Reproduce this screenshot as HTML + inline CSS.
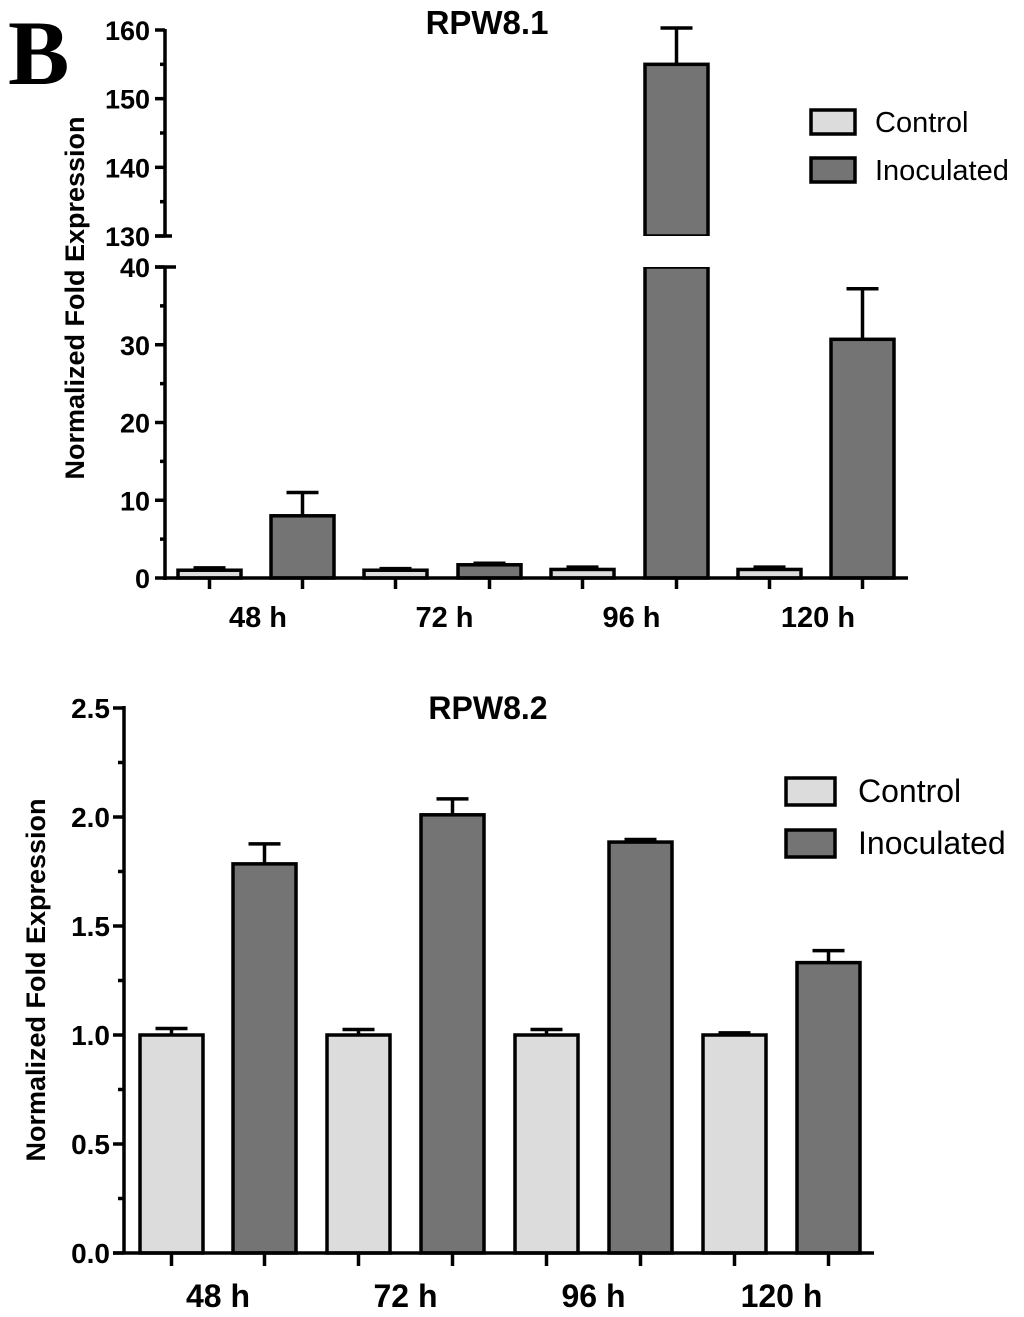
<!DOCTYPE html>
<html><head><meta charset="utf-8"><style>
body{margin:0;background:#fff;}
svg{display:block;font-family:"Liberation Sans",Arial,sans-serif;font-weight:bold;}
</style></head><body>
<svg id="c" width="1024" height="1317">
<text x="8" y="84" font-family="Liberation Serif" font-size="92" font-weight="bold">B</text>
</svg>
<script>
const categories=["48 h","72 h","96 h","120 h"];
const top_control=[1.0,1.0,1.1,1.1];
const top_controlErr=[1.3,1.2,1.4,1.4];
const top_inoc=[8.0,1.7,155.0,30.7];
const top_inocErr=[11.0,1.9,160.3,37.2];
const top_lowTicks=[0,10,20,30,40];
const top_highTicks=[130,140,150,160];
const bot_control=[1.0,1.0,1.0,1.0];
const bot_controlErr=[1.03,1.025,1.025,1.01];
const bot_inoc=[1.785,2.01,1.885,1.332];
const bot_inocErr=[1.877,2.083,1.897,1.387];
const bot_ticks=["0.0","0.5","1.0","1.5","2.0","2.5"];

const S=document.getElementById('c');const NS='http://www.w3.org/2000/svg';
function el(t,a,p){const e=document.createElementNS(NS,t);for(const k in a)e.setAttribute(k,a[k]);(p||S).appendChild(e);return e;}
function ln(x1,y1,x2,y2,w){return el('line',{x1,y1,x2,y2,stroke:'#000','stroke-width':w||3.5});}
function tx(x,y,s,size,anchor,extra){const e=el('text',Object.assign({x,y,'font-size':size,'text-anchor':anchor||'start'},extra||{}));e.textContent=s;return e;}

// ---- Top chart ----
const yLow=v=>578-v*311/40;
const yHigh=v=>236-(v-130)*206/30;
function yTop(v){return v<=40?yLow(v):yHigh(v);}
const tBars=[[178,271],[364,458],[551,645],[738,831]],bw=63;
let t=tx(487,34,'RPW8.1',33,'middle');

t=tx(84,298,'Normalized Fold Expression',27,'middle',{transform:'rotate(-90 84 298)'});

for(let i=0;i<categories.length;i++){
  const [cx,ix]=tBars[i];
  let y=yTop(top_control[i]);
  let r=el('rect',{x:cx,y:y,width:bw,height:578-y,fill:'#dcdcdc',stroke:'#000','stroke-width':3.5});
  
  let ye=yTop(top_controlErr[i]);ln(cx+bw/2,ye,cx+bw/2,y);ln(cx+bw/2-16,ye,cx+bw/2+16,ye);
  const v=top_inoc[i];
  if(v>40){
    y=yHigh(v);
    r=el('rect',{x:ix,y:y,width:bw,height:236-y,fill:'#747474',stroke:'#000','stroke-width':3.5});
    
    r=el('rect',{x:ix,y:267,width:bw,height:311,fill:'#747474',stroke:'#000','stroke-width':3.5});
    
    el('rect',{x:ix-3,y:236,width:bw+6,height:31,fill:'#fff'});
  }else{
    y=yLow(v);
    r=el('rect',{x:ix,y:y,width:bw,height:578-y,fill:'#747474',stroke:'#000','stroke-width':3.5});
    
  }
  ye=yTop(top_inocErr[i]);ln(ix+bw/2,ye,ix+bw/2,y);ln(ix+bw/2-16,ye,ix+bw/2+16,ye);
  const mid=(cx+ix+bw)/2;
  ln(cx+bw/2,578,cx+bw/2,589);ln(ix+bw/2,578,ix+bw/2,589);
  t=tx(mid+2,627,categories[i],29,'middle');
  
}
ln(165,266,165,580);ln(165,29,165,237);ln(163,578,908,578);
ln(155,267,176,267);ln(155,236,172,236);
top_lowTicks.forEach(v=>{ln(155,yLow(v),165,yLow(v));t=tx(150,yLow(v)+10,String(v),27,'end');});
[5,15,25,35].forEach(v=>ln(160,yLow(v),165,yLow(v)));
top_highTicks.forEach(v=>{ln(155,yHigh(v),165,yHigh(v));t=tx(150,yHigh(v)+10,String(v),27,'end');});
[135,145,155].forEach(v=>ln(160,yHigh(v),165,yHigh(v)));
let g=el('g',{});
el('rect',{x:811,y:110,width:44,height:24,fill:'#dcdcdc',stroke:'#000','stroke-width':3.5},g);
el('rect',{x:811,y:158,width:44,height:24,fill:'#747474',stroke:'#000','stroke-width':3.5},g);
t=tx(875,132,'Control',29,'start',{'font-weight':'normal'});g.appendChild(t);
t=tx(875,180,'Inoculated',29,'start',{'font-weight':'normal'});g.appendChild(t);

// ---- Bottom chart ----
const yB=v=>1253-v*218;
const bBars=[[140,233],[327,421],[515,609],[703,797]];
t=tx(488,719,'RPW8.2',32,'middle');

t=tx(45,980,'Normalized Fold Expression',27,'middle',{transform:'rotate(-90 45 980)'});

for(let i=0;i<categories.length;i++){
  const [cx,ix]=bBars[i];
  let y=yB(bot_control[i]);
  let r=el('rect',{x:cx,y:y,width:bw,height:1253-y,fill:'#dcdcdc',stroke:'#000','stroke-width':3.5});
  
  let ye=yB(bot_controlErr[i]);ln(cx+bw/2,ye,cx+bw/2,y);ln(cx+bw/2-16,ye,cx+bw/2+16,ye);
  y=yB(bot_inoc[i]);
  r=el('rect',{x:ix,y:y,width:bw,height:1253-y,fill:'#747474',stroke:'#000','stroke-width':3.5});
  
  ye=yB(bot_inocErr[i]);ln(ix+bw/2,ye,ix+bw/2,y);ln(ix+bw/2-16,ye,ix+bw/2+16,ye);
  ln(cx+bw/2,1253,cx+bw/2,1266);ln(ix+bw/2,1253,ix+bw/2,1266);
  t=tx((cx+ix+bw)/2,1307,categories[i],32,'middle');
  
}
ln(124,706,124,1254);ln(113,1253,874,1253);
bot_ticks.forEach(s=>{const v=parseFloat(s);ln(113,yB(v),124,yB(v));t=tx(110,yB(v)+10,s,28,'end');});
[0.25,0.75,1.25,1.75,2.25].forEach(v=>ln(118,yB(v),124,yB(v)));
g=el('g',{});
el('rect',{x:786,y:778,width:49,height:27,fill:'#dcdcdc',stroke:'#000','stroke-width':3.5},g);
el('rect',{x:786,y:830,width:49,height:27,fill:'#747474',stroke:'#000','stroke-width':3.5},g);
t=tx(858,802,'Control',32,'start',{'font-weight':'normal'});g.appendChild(t);
t=tx(858,854,'Inoculated',32,'start',{'font-weight':'normal'});g.appendChild(t);
</script>
</body></html>
